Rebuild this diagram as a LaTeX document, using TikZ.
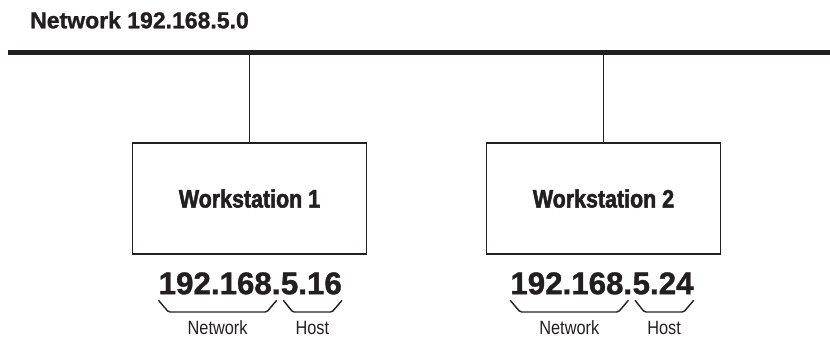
\documentclass[tikz,border=0pt]{standalone}
\usepackage{fontspec}
\setmainfont{Liberation Sans}[BoldFeatures={FakeBold=1.2}]
\newfontfamily\cndfont{Liberation Sans}[FakeStretch=0.85, BoldFont=Liberation Sans Bold, BoldFeatures={FakeStretch=0.85, FakeBold=2}]
\usetikzlibrary{positioning}
\definecolor{ink}{HTML}{231F20}

\begin{document}
\begin{tikzpicture}[x=1pt, y=-1pt, node distance=118.3pt, ink,
	wsbox/.style={draw, line width=1.3pt, rectangle, minimum width=234.4pt, minimum height=111pt, font=\cndfont\bfseries\fontsize{25.2}{28}\selectfont},
	ipnum/.style={inner sep=0pt, font=\bfseries\fontsize{31.3}{34}\selectfont},
	lbl/.style={inner sep=0pt, font=\cndfont\fontsize{19.2}{22}\selectfont},
	wire/.style={line width=1.3pt},
	brc/.style={line width=1.4pt, rounded corners=1.5pt}]
	\useasboundingbox (0,0) rectangle (830,338);
	
	% Define nodes
	\node [anchor=base west, inner sep=0pt, font=\bfseries\fontsize{23}{26}\selectfont] (title) at (30,28.3) {Network 192.168.5.0};
	\coordinate (busL) at (8.3,52.5);
	\coordinate (busR) at (830,52.5);
	\node [wsbox] (ws1) at (249.5,198.5) {Workstation 1};
	\node [wsbox, right=of ws1] (ws2) {Workstation 2};
	
	\node [ipnum, anchor=base east] (net1) at (280.7,294.2) {192.168.};
	\node [ipnum, anchor=base west] (host1) at (net1.base east) {5.16};
	\node [ipnum, anchor=base east] (net2) at (632.4,294.2) {192.168.};
	\node [ipnum, anchor=base west] (host2) at (net2.base east) {5.24};
	
	% Bus and drops
	\draw [line width=5pt] (busL) -- (busR);
	\draw [wire] (ws1.north) -- (ws1.north |- busL);
	\draw [wire] (ws2.north) -- (ws2.north |- busL);
	
	% Braces with labels
	\draw [brc] ([shift={(0,5.6)}]net1.south west) -- ([shift={(10,17.3)}]net1.south west) -- ([shift={(-14,17.3)}]net1.south east) node[lbl, midway, below=8.3pt] (nlbl1) {Network} -- ([shift={(-4,5.6)}]net1.south east);
	\draw [brc] ([shift={(2.6,5.6)}]host1.south west) -- ([shift={(12,17.3)}]host1.south west) -- ([shift={(-10,17.3)}]host1.south east) node[lbl, midway, below=8.3pt] (hlbl1) {Host} -- ([shift={(0,5.6)}]host1.south east);
	\draw [brc] ([shift={(0,5.6)}]net2.south west) -- ([shift={(10,17.3)}]net2.south west) -- ([shift={(-14,17.3)}]net2.south east) node[lbl, midway, below=8.3pt] (nlbl2) {Network} -- ([shift={(-4,5.6)}]net2.south east);
	\draw [brc] ([shift={(2.6,5.6)}]host2.south west) -- ([shift={(12,17.3)}]host2.south west) -- ([shift={(-10,17.3)}]host2.south east) node[lbl, midway, below=8.3pt] (hlbl2) {Host} -- ([shift={(0,5.6)}]host2.south east);
	
\end{tikzpicture}
\end{document}
